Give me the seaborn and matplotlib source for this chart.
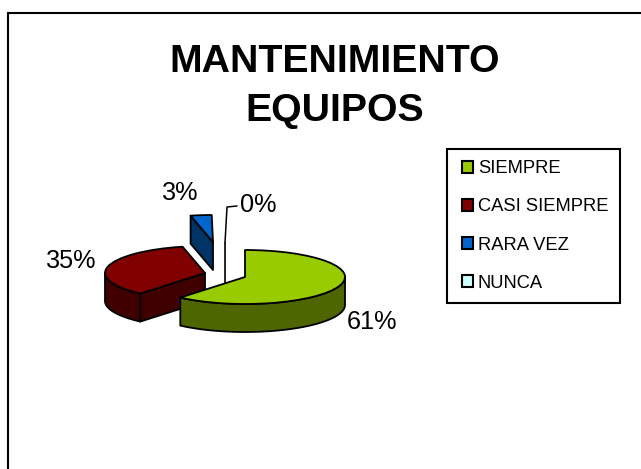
import numpy as np
import matplotlib
matplotlib.use("Agg")
import matplotlib.pyplot as plt
from matplotlib.patches import Wedge, Polygon, Patch
import seaborn as sns

categories = ["SIEMPRE", "CASI SIEMPRE", "RARA VEZ", "NUNCA"]
values = [61.2, 35.2, 3.4, 0.2]
title = "MANTENIMIENTO\nEQUIPOS"
top_colors = ["#99CC00", "#800000", "#0066CC", "#CCFFFF"]
side_colors = ["#4D6600", "#400000", "#003366", "#668080"]

W, H = 641, 469
SQ = 0.27      # vertical squash of the pie
R = 100
DEPTH = 28
centers = [(245, 277), (205, 273), (213, 242), (225, 270)]
order = [2, 3, 1, 0]

sns.set_theme(style="white")
plt.rcParams["font.family"] = ["Liberation Sans", "DejaVu Sans"]
fig = plt.figure(figsize=(W / 100, H / 100), dpi=100)
ax = fig.add_axes([0, 0, 1, 1])
ax.set_xlim(0, W)
ax.set_ylim(0, H / SQ)
ax.axis("off")


def Y(py):
    return (H - py) / SQ


d = DEPTH / SQ
# outer frame: only the top and left edges fall inside the picture
ax.plot([7.5, 7.5, W], [0, Y(13), Y(13)], color="black", lw=1.5, solid_joinstyle="miter")

fr = np.array(values) / sum(values) * 360
stops = 90 - np.cumsum(fr)
starts = stops + fr

for n, i in enumerate(order):
    z = 1 + n
    cx, cy = centers[i][0], Y(centers[i][1])
    t1, t2 = stops[i], starts[i]
    lw = 1.3
    # radial face turned towards the viewer
    if i in (1, 2):
        ang = np.radians(t2)
        rx, ry = R * np.cos(ang), R * np.sin(ang)
        face = [(cx, cy), (cx + rx, cy + ry), (cx + rx, cy + ry - d), (cx, cy - d)]
        ax.add_patch(Polygon(face, fc=side_colors[i], ec="black", lw=lw, joinstyle="round", zorder=z))
    # outer wall: part of the arc in the lower half (180..360 degrees)
    for k in np.arange(np.floor(t1 / 360) - 1, np.floor(t2 / 360) + 2):
        lo = max(t1, 180 + 360 * k)
        hi = min(t2, 360 + 360 * k)
        if hi > lo:
            th = np.radians(np.linspace(lo, hi, 80))
            xs = cx + R * np.cos(th)
            ys = cy + R * np.sin(th)
            pts = np.r_[np.c_[xs, ys], np.c_[xs[::-1], ys[::-1] - d]]
            ax.add_patch(Polygon(pts, fc=side_colors[i], ec="black", lw=lw, joinstyle="round", zorder=z))
    if i == 3:
        ax.plot([cx, cx], [cy + R, cy - d], color="black", lw=1.2, zorder=z)
    else:
        ax.add_patch(Wedge((cx, cy), R, t1, t2, fc=top_colors[i], ec="black", lw=lw,
                           joinstyle="round", zorder=z))

# percentage labels
label_pos = [(372, 322), (71, 261), (180, 193), (258, 205)]
for v, (lx, ly) in zip(values, label_pos):
    ax.text(lx, Y(ly), f"{round(v):d}%", fontsize=18.2, ha="center", va="center", color="black")

# leader of the 0% label
ax.plot([225, 227, 237], [Y(243), Y(207), Y(206)], color="black", lw=1.1, zorder=2)

ax.text(335, Y(86.5), title, fontsize=28.3, fontweight="bold", ha="center", va="center",
        color="black", linespacing=1.45)

handles = [Patch(fc=c, ec="black", lw=1.5) for c in top_colors]
leg = ax.legend(handles, categories, loc="upper left", bbox_to_anchor=(447 / W, 1 - 149 / H),
                bbox_transform=ax.transAxes, borderaxespad=0, fontsize=13.2, frameon=True,
                fancybox=False, edgecolor="black", framealpha=1, labelspacing=1.15,
                handlelength=0.8, handleheight=0.58, handletextpad=0.26, borderpad=0.62,
                labelcolor="black")
for h in leg.legend_handles:
    h.set_x(2.5)
    h.set_width(8)
leg.get_frame().set_linewidth(1.5)
leg.set_zorder(10)

fig.savefig("out.png", dpi=100, facecolor="white")
